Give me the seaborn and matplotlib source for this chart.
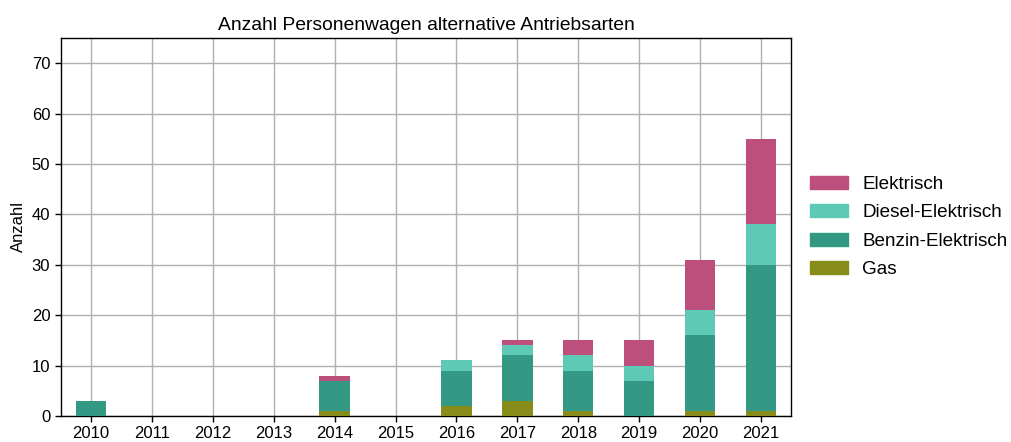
import numpy as np
import pandas as pd
import matplotlib.pyplot as plt
import seaborn as sns
from matplotlib.patches import Patch

# Data
years = ["2010", "2011", "2012", "2013", "2014", "2015",
         "2016", "2017", "2018", "2019", "2020", "2021"]
gas = [0, 0, 0, 0, 1, 0, 2, 3, 1, 0, 1, 1]
benzin_elektrisch = [3, 0, 0, 0, 6, 0, 7, 9, 8, 7, 15, 29]
diesel_elektrisch = [0, 0, 0, 0, 0, 0, 2, 2, 3, 3, 5, 8]
elektrisch = [0, 0, 0, 0, 1, 0, 0, 1, 3, 5, 10, 17]

series = ["Gas", "Benzin-Elektrisch", "Diesel-Elektrisch", "Elektrisch"]
colors = {"Gas": "#878c1a", "Benzin-Elektrisch": "#339985",
          "Diesel-Elektrisch": "#5ec9b4", "Elektrisch": "#bc4f7c"}

sns.set_theme(style="ticks")
plt.rcParams["font.family"] = ["Liberation Sans", "DejaVu Sans"]
plt.rcParams["text.color"] = "black"
plt.rcParams["axes.labelcolor"] = "black"

df = pd.DataFrame({"Jahr": years, "Gas": gas,
                   "Benzin-Elektrisch": benzin_elektrisch,
                   "Diesel-Elektrisch": diesel_elektrisch,
                   "Elektrisch": elektrisch})

# cumulative sums so each layer can be drawn over the one above it
cum = df[series].cumsum(axis=1)

fig, ax = plt.subplots(figsize=(10.12, 4.42), dpi=100)
fig.subplots_adjust(left=0.06, right=0.782, top=0.914, bottom=0.059)

for name in reversed(series):
    sns.barplot(x=df["Jahr"], y=cum[name], order=years, color=colors[name],
                width=0.5, saturation=1, linewidth=0, ax=ax, zorder=3)

ax.set_ylim(0, 75)
ax.set_xlim(-0.5, 11.5)
ax.set_yticks(range(0, 71, 10))
ax.grid(True, color="#b0b0b0", linewidth=1, zorder=0)
ax.set_axisbelow(True)
for s in ax.spines.values():
    s.set_color("black")
    s.set_linewidth(1)
ax.tick_params(axis="both", labelsize=12, colors="black", length=4, width=1)
ax.set_title("Anzahl Personenwagen alternative Antriebsarten", fontsize=13.9,
             color="black")
ax.set_xlabel("")
ax.set_ylabel("Anzahl", fontsize=12, color="black")

handles = [Patch(color=colors[n], label=n) for n in reversed(series)]
ax.legend(handles=handles, loc="center left", bbox_to_anchor=(1.0, 0.5),
          frameon=False, fontsize=13.6, handletextpad=0.75,
          borderaxespad=0.6, labelspacing=0.6)

plt.savefig("out.png", dpi=100)
